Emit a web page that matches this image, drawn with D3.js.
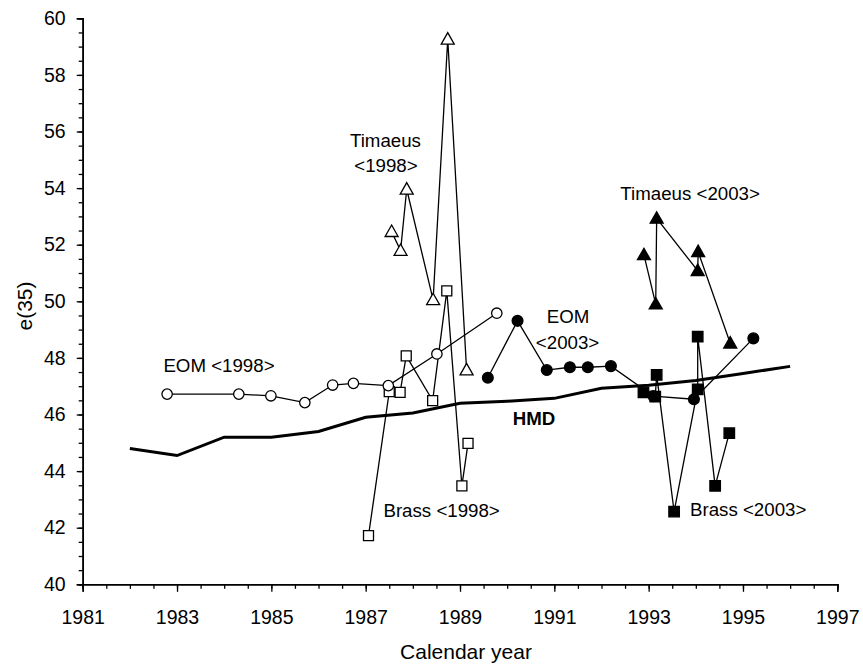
<!DOCTYPE html>
<html>
<head>
<meta charset="utf-8">
<script src="https://d3js.org/d3.v7.min.js"></script>
<style>
  body { margin: 0; background: #fff; }
  text { font-family: Arial, "Liberation Sans", sans-serif; fill: #000; }
</style>
</head>
<body>
<script>
// Define SVG area dimensions
var svgWidth = 863;
var svgHeight = 668;

// chart margins
var chartMargin = { top: 18.3, right: 25.7, bottom: 83.7, left: 82.7 };

var chartWidth = svgWidth - chartMargin.left - chartMargin.right;
var chartHeight = svgHeight - chartMargin.top - chartMargin.bottom;

// ---- data: [calendar year, e(35)] ----
var hmd = [[1982, 44.8], [1983, 44.55], [1984, 45.2], [1985, 45.2], [1986, 45.4],
  [1987, 45.9], [1988, 46.05], [1989, 46.4], [1990, 46.47], [1991, 46.57],
  [1992, 46.93], [1993, 47.03], [1994, 47.2], [1995, 47.45], [1996, 47.7]];

var eom1998 = [[1982.79, 46.72], [1984.31, 46.72], [1984.99, 46.66], [1985.71, 46.42],
  [1986.3, 47.04], [1986.74, 47.1], [1987.48, 47.02], [1988.51, 48.14], [1989.78, 49.58]];

var timaeus1998 = [[1987.55, 52.46], [1987.74, 51.79], [1987.87, 53.96], [1988.43, 50.05],
  [1988.74, 59.26], [1989.14, 47.57]];

var brass1998 = [[1987.06, 41.72], [1987.5, 46.81], [1987.73, 46.78], [1987.86, 48.07],
  [1988.42, 46.49], [1988.72, 50.37], [1989.04, 43.48], [1989.17, 44.98]];

var eom2003 = [[1989.59, 47.3], [1990.22, 49.31], [1990.84, 47.57], [1991.33, 47.67],
  [1991.71, 47.67], [1992.2, 47.71], [1993.1, 46.65], [1993.96, 46.54], [1995.22, 48.69]];

var timaeus2003 = [[1992.9, 51.64], [1993.15, 49.9], [1993.17, 52.93], [1994.04, 51.08],
  [1994.05, 51.75], [1994.73, 48.52]];

var brass2003 = [[1992.89, 46.78], [1993.14, 46.63], [1993.17, 47.4], [1993.54, 42.57],
  [1994.04, 46.89], [1994.04, 48.75], [1994.41, 43.48], [1994.71, 45.34]];

// axis ticks
var xLabelYears = d3.range(1981, 1998, 2);
var xMinorYears = d3.range(1981, 1997.01, 0.5);
var yLabelValues = d3.range(40, 61, 2);
var yMinorValues = d3.range(40, 60.01, 0.5);

// series labels: [text, year, value, bold]
var seriesLabels = [
  ["Timaeus", 1987.42, 55.7, false],
  ["<1998>", 1987.43, 54.79, false],
  ["EOM <1998>", 1983.89, 47.72, false],
  ["Brass <1998>", 1988.61, 42.6, false],
  ["HMD", 1990.57, 45.87, true],
  ["EOM", 1991.29, 49.46, false],
  ["<2003>", 1991.28, 48.54, false],
  ["Timaeus <2003>", 1993.88, 53.82, false],
  ["Brass <2003>", 1995.11, 42.63, false]
];

var svg = d3.select("body")
  .append("svg")
  .attr("width", svgWidth)
  .attr("height", svgHeight);

var chartGroup = svg.append("g")
  .attr("transform", `translate(${chartMargin.left}, ${chartMargin.top})`);

// scales
var xScale = d3.scaleLinear().domain([1981, 1997]).range([0, chartWidth]);
var yScale = d3.scaleLinear().domain([40, 60]).range([chartHeight, 0]);

// minor ticks first
chartGroup.append("g")
  .attr("transform", `translate(0, ${chartHeight})`)
  .call(d3.axisBottom(xScale).tickValues(xMinorYears).tickSize(4.5).tickFormat(""));
chartGroup.append("g")
  .call(d3.axisLeft(yScale).tickValues(yMinorValues).tickSize(4).tickFormat(""));

// major ticks with labels
var xAxis = chartGroup.append("g")
  .attr("transform", `translate(0, ${chartHeight})`)
  .call(d3.axisBottom(xScale).tickValues(xLabelYears).tickSize(7.5).tickPadding(18).tickFormat(d3.format("d")));

var yAxis = chartGroup.append("g")
  .call(d3.axisLeft(yScale).tickValues(yLabelValues).tickSize(6).tickPadding(11).tickFormat(d3.format("d")));

chartGroup.selectAll(".domain").attr("stroke", "#000").attr("stroke-width", 1.6);
chartGroup.selectAll(".tick line").attr("stroke", "#000").attr("stroke-width", 1.3);
chartGroup.selectAll(".tick text")
  .attr("font-family", "Arial, 'Liberation Sans', sans-serif")
  .attr("font-size", 19.5)
  .attr("fill", "#000");

// axis titles
svg.append("text")
  .attr("x", 466)
  .attr("y", 659)
  .attr("text-anchor", "middle")
  .attr("font-size", 21)
  .text("Calendar year");

svg.append("text")
  .attr("transform", "translate(32, 306) rotate(-90)")
  .attr("text-anchor", "middle")
  .attr("font-size", 21)
  .text("e(35)");

// line generator
var line = d3.line()
  .x(d => xScale(d[0]))
  .y(d => yScale(d[1]));

// HMD thick line
chartGroup.append("path")
  .datum(hmd)
  .attr("d", line)
  .attr("fill", "none")
  .attr("stroke", "#000")
  .attr("stroke-width", 3);

// marker shapes
function squarePath(s) {
  var h = s / 2;
  return `M${-h},${-h}H${h}V${h}H${-h}Z`;
}
function trianglePath(w, h) {
  return `M0,${-h * 0.58}L${w / 2},${h * 0.42}L${-w / 2},${h * 0.42}Z`;
}
function circlePath(r) {
  return d3.arc()({ innerRadius: 0, outerRadius: r, startAngle: 0, endAngle: 2 * Math.PI });
}

var seriesList = [
  { data: timaeus1998, shape: trianglePath(13, 11.5), fill: "#fff" },
  { data: brass1998, shape: squarePath(10), fill: "#fff" },
  { data: eom1998, shape: circlePath(5.2), fill: "#fff" },
  { data: timaeus2003, shape: trianglePath(13, 11.5), fill: "#000" },
  { data: brass2003, shape: squarePath(10.5), fill: "#000" },
  { data: eom2003, shape: circlePath(5.4), fill: "#000" }
];

seriesList.forEach(function(s) {
  chartGroup.append("path")
    .datum(s.data)
    .attr("d", line)
    .attr("fill", "none")
    .attr("stroke", "#000")
    .attr("stroke-width", 1.3);
});

seriesList.forEach(function(s) {
  chartGroup.append("g")
    .selectAll("path")
    .data(s.data)
    .enter()
    .append("path")
    .attr("d", s.shape)
    .attr("transform", d => `translate(${xScale(d[0])}, ${yScale(d[1])})`)
    .attr("fill", s.fill)
    .attr("stroke", "#000")
    .attr("stroke-width", 1.3);
});

// series labels
chartGroup.selectAll(".seriesLabel")
  .data(seriesLabels)
  .enter()
  .append("text")
  .attr("class", "seriesLabel")
  .attr("x", d => xScale(d[1]))
  .attr("y", d => yScale(d[2]))
  .attr("dy", "0.35em")
  .attr("text-anchor", "middle")
  .attr("font-size", 18.7)
  .attr("font-weight", d => d[3] ? "bold" : "normal")
  .text(d => d[0]);
</script>
</body>
</html>
